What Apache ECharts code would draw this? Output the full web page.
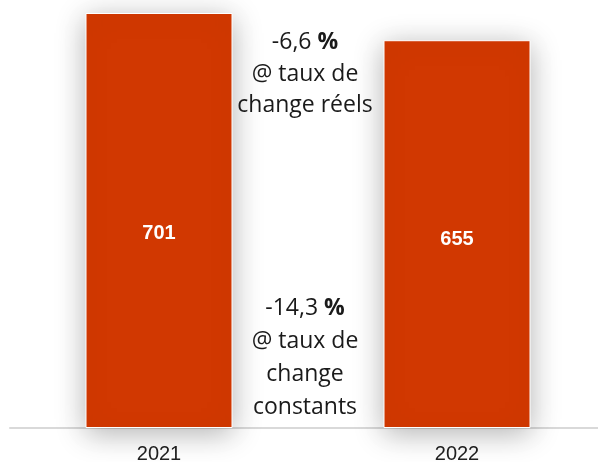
<!DOCTYPE html>
<html>
<head>
<meta charset="utf-8">
<script src="https://cdn.jsdelivr.net/npm/echarts@6/dist/echarts.min.js"></script>
<style>
  html, body { margin: 0; padding: 0; background: #fff; }
  #chart { width: 598px; height: 462px; }
</style>
</head>
<body>
<div id="chart"></div>
<script>
  // Revenue by year, with the two change notes printed between the bars.
  const years  = ['2021', '2022'];
  const values = [701, 655];
  // label nudges so the numbers sit where the original has them
  const labelOffsets = [[0, 13], [0, 5]];
  const noteReal  = ['-6,6 {b|%}', '@ taux de', 'change réels'];
  const noteConst = ['-14,3 {b|%}', '@ taux de', 'change', 'constants'];

  const BAR = '#d13801';
  const NOTE_FONT = '23px "Open Sans"';
  const noteRich = lh => ({ b: { fontWeight: 'bold', fontSize: 23, fontFamily: 'Open Sans', fill: '#1a1a1a', lineHeight: lh } });

  const chart = echarts.init(document.getElementById('chart'), null, { renderer: 'canvas' });
  chart.setOption({
    animation: false,
    backgroundColor: '#fff',
    grid: { left: 10, right: -8, top: 13, bottom: 34, containLabel: false, outerBoundsMode: 'none' },
    xAxis: {
      type: 'category',
      data: years,
      axisLine: { lineStyle: { color: '#d9d9d9', width: 2 } },
      axisTick: { show: false },
      axisLabel: { color: '#222', fontSize: 20, fontFamily: 'Liberation Sans', margin: 16 },
    },
    yAxis: { type: 'value', min: 0, max: 701, show: false, splitLine: { show: false } },
    series: [{
      type: 'bar',
      barWidth: 147,
      data: values.map((v, i) => ({
        value: v,
        label: { offset: labelOffsets[i] },
      })),
      itemStyle: {
        color: BAR,
        borderColor: '#fff',
        borderWidth: 1,
        shadowBlur: 28,
        shadowColor: 'rgba(0,0,0,0.3)',
        shadowOffsetX: 0,
        shadowOffsetY: 5,
      },
      label: {
        show: true,
        position: 'inside',
        color: '#fff',
        fontWeight: 'bold',
        fontSize: 20,
        fontFamily: 'Liberation Sans',
      },
    }],
    graphic: [
      {
        type: 'text', x: 305, y: 27, z: 10,
        style: {
          text: noteReal.join('\n'), textAlign: 'center', textVerticalAlign: 'top',
          font: NOTE_FONT, fill: '#1a1a1a', lineHeight: 31.5, rich: noteRich(31.5),
        },
      },
      {
        type: 'text', x: 305, y: 292, z: 10,
        style: {
          text: noteConst.join('\n'), textAlign: 'center', textVerticalAlign: 'top',
          font: NOTE_FONT, fill: '#1a1a1a', lineHeight: 33, rich: noteRich(33),
        },
      },
    ],
  });
</script>
</body>
</html>
